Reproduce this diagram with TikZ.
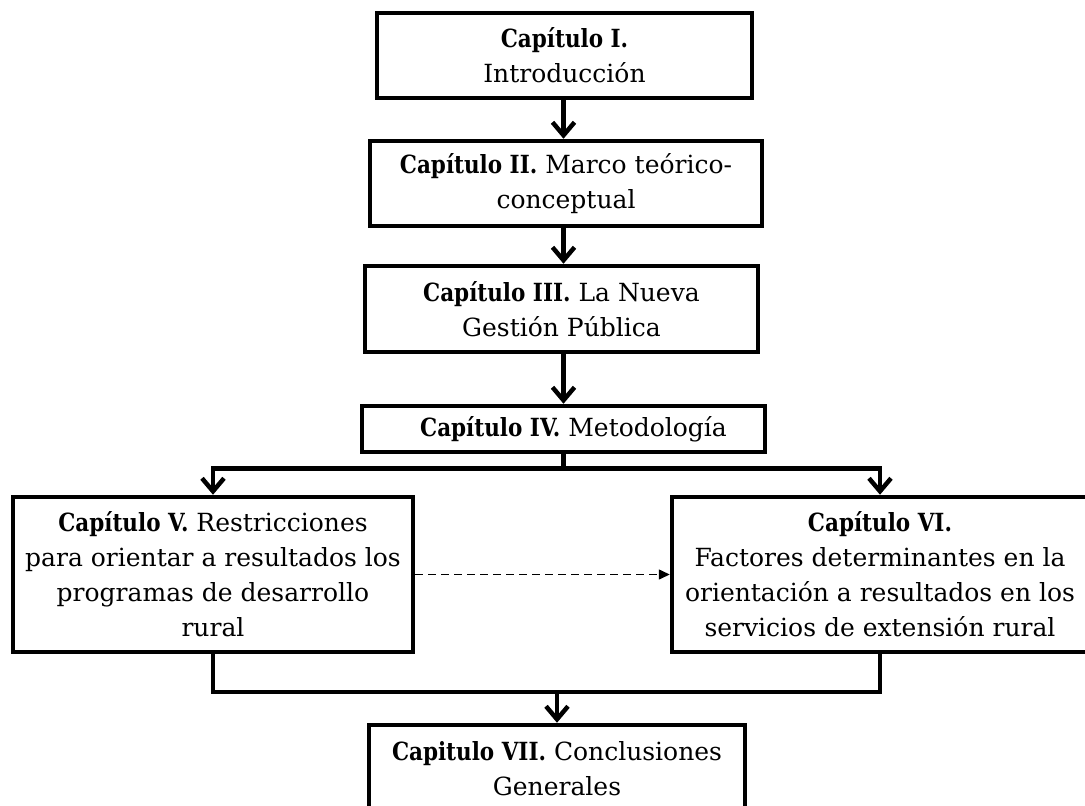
\documentclass[tikz,border=0pt]{standalone}
\usepackage{fontspec}
\setmainfont{DejaVu Serif}[BoldFeatures={FakeStretch=0.86}]
\usepackage{tikz}
\usetikzlibrary{positioning, arrows.meta}

\begin{document}
\begin{tikzpicture}[x=1pt, y=-1pt,
        box/.style={draw, rectangle, line width=4.5pt, inner sep=0pt, align=center,
            font=\fontsize{25}{35}\selectfont},
        flow/.style={line width=4.5pt, -{Straight Barb[length=13pt, width=22pt]}},
        link/.style={line width=4.5pt},
        hint/.style={line width=1.5pt, dash pattern=on 8pt off 5pt, -{Triangle[length=11pt, width=10pt]}}]

    \useasboundingbox (0,0) rectangle (1085,806);

    \node[box] (cap1) [minimum width=375pt, minimum height=85pt] at (564.5,55.5)
        {\textbf{Capítulo I.}\\Introducción}; %I
    \node[box] (cap2) [minimum width=392pt, minimum height=85pt, below=38.5pt of cap1, xshift=1.5pt]
        {\textbf{Capítulo II.} Marco teórico-\\conceptual}; %II
    \node[box] (cap3) [minimum width=393pt, minimum height=86pt, below=35.5pt of cap2, xshift=-4.5pt]
        {\textbf{Capítulo III.} La Nueva\\Gestión Pública}; %III
    \node[box] (cap4) [minimum width=403pt, minimum height=46pt, below=49.5pt of cap3, xshift=2pt]
        {\hspace*{20pt}\textbf{Capítulo IV.} Metodología}; %IV

    \node[box] (cap5) [minimum width=400pt, minimum height=155pt, below=40.5pt of cap4, xshift=-350.5pt]
        {\textbf{Capítulo V.} Restricciones\\para orientar a resultados los\\programas de desarrollo\\rural}; %V
    \node[box] (cap6) [minimum width=416pt, minimum height=155pt, right=254.5pt of cap5]
        {\textbf{Capítulo VI.}\\Factores determinantes en la\\orientación a resultados en los\\servicios de extensión rural}; %VI

    \node[box] (cap7) [minimum width=376pt, minimum height=88pt, below=68.5pt of cap5, xshift=344pt]
        {\textbf{Capitulo VII.} Conclusiones\\Generales}; %VII

    \coordinate[below=14pt of cap4.south] (split);
    \coordinate (merge) at (cap7.north |- 0,692);

    \draw[flow] (cap1.south -| cap4.north) -- (cap2.north -| cap4.north);
    \draw[flow] (cap2.south -| cap4.north) -- (cap3.north -| cap4.north);
    \draw[flow] (cap3.south -| cap4.north) -- (cap4.north);

    \draw[link] (cap4.south) -- (split);
    \draw[flow] (split) -| (cap5.north);
    \draw[flow] (split) -| (cap6.north);

    \draw[hint] (cap5) -- (cap6);

    \draw[link] (cap5.south) |- (merge);
    \draw[link] (cap6.south) |- (merge);
    \draw[flow] (merge) -- (cap7.north);

\end{tikzpicture}
\end{document}
